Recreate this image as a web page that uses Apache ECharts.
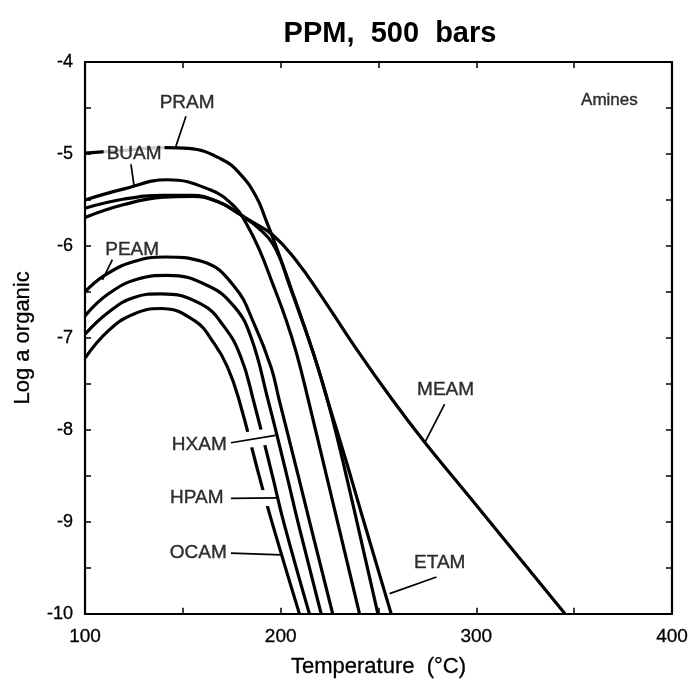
<!DOCTYPE html>
<html><head><meta charset="utf-8">
<script src="https://cdn.jsdelivr.net/npm/echarts@6/dist/echarts.min.js"></script>
<style>html,body{margin:0;padding:0;background:#fff}#c{width:691px;height:683px}</style>
</head><body><div id="c"></div>
<script>
// ---- data (Temperature °C, log a) ----
const xTickLabels = [100, 200, 300, 400];
const yTickLabels = [-4, -5, -6, -7, -8, -9, -10];

const pram = [[100,-4.99],[120,-4.96],[141,-4.93],[153,-4.94],[170,-5.06],[179,-5.21],[187.4,-5.46],[192.5,-5.72],[197.6,-6.0],[204.5,-6.41],[216.3,-7.14],[224,-7.68],[233,-8.45],[249.7,-10]];
const buam = [[100,-5.50],[120,-5.38],[142,-5.28],[164,-5.39],[176.3,-5.57],[182.3,-5.75],[189.1,-6.04],[195.9,-6.41],[202.7,-6.80],[208,-7.16],[213.5,-7.62],[240.3,-10]];
const etam = [[100,-5.59],[120,-5.49],[140,-5.45],[155,-5.45],[168,-5.52],[178,-5.64],[190,-5.83],[197.6,-6.04],[204.5,-6.43],[216.3,-7.14],[224,-7.68],[233.5,-8.34],[242,-8.96],[256.5,-10]];
const meam = [[100,-5.69],[120,-5.55],[140,-5.47],[155,-5.46],[168,-5.52],[178,-5.64],[184,-5.72],[196,-5.88],[208,-6.16],[220,-6.52],[240,-7.16],[257,-7.67],[273.6,-8.135],[290,-8.56],[305,-8.95],[320,-9.34],[345.3,-10]];
const peam = [[100,-6.50],[110,-6.32],[125,-6.17],[141,-6.12],[160,-6.17],[176.3,-6.44],[186.5,-6.85],[195.1,-7.32],[199.3,-7.68],[209,-8.5],[214.8,-9.0],[226.6,-10]];
const hxam = [[100,-6.76],[112,-6.52],[127,-6.36],[142,-6.32],[162.6,-6.43],[176.3,-6.66],[184.8,-6.99],[193.6,-7.68],[203.2,-8.5],[208.8,-9.0],[220.7,-10]];
const hpam = [[100,-6.96],[112,-6.72],[125,-6.56],[138.7,-6.52],[159.2,-6.63],[171.2,-6.88],[179.7,-7.21],[186.1,-7.68],[195.8,-8.5],[201.5,-9.0],[214.7,-10]];
const ocam = [[100,-7.22],[112,-6.92],[125,-6.74],[138.7,-6.68],[155.8,-6.81],[166,-7.06],[172.9,-7.32],[178.8,-7.68],[189,-8.5],[195.5,-9.0],[209.6,-10]];

const curves = [pram, buam, etam, meam, peam, hxam, hpam, ocam];

// ---- annotations (data coordinates) ----
const labelNames = ['PRAM','BUAM','PEAM','HXAM','HPAM','OCAM','MEAM','ETAM','Amines'];
const labelAt = [[152.2,-4.44],[125.1,-5.0],[124.1,-6.04],[158.4,-8.16],[157.1,-8.74],[157.9,-9.34],[284.3,-7.56],[281.3,-9.45],[368,-4.42]];
const leaders = [
  [[151.6,-4.59],[146.4,-4.92]],
  [[123.4,-5.10],[125.1,-5.35]],
  [[114.0,-6.15],[108.9,-6.37]],
  [[174.6,-8.14],[197.3,-8.06]],
  [[174.6,-8.745],[198.2,-8.74]],
  [[174.6,-9.34],[200.3,-9.358]],
  [[283.8,-7.72],[273.6,-8.14]],
  [[279.6,-9.60],[255.7,-9.78]]
];
const gaps = [
  [[176.5,-8.133],[194.0,-8.07]],
  [[176.5,-8.745],[195.3,-8.74]]
];

const FONT = "'Liberation Sans', Arial, Helvetica, sans-serif";
const chart = echarts.init(document.getElementById('c'));

const isInt = v => Math.abs(v - Math.round(v)) < 1e-9;

const series = curves.map(d => ({
  type: 'line', data: d, showSymbol: false, smooth: 0.45,
  lineStyle: { color: '#000', width: 3.2 }, z: 2, silent: true, animation: false
}));
series.push({
  type: 'lines', coordinateSystem: 'cartesian2d', z: 3, silent: true, animation: false,
  lineStyle: { color: '#fff', width: 16, opacity: 1, cap: 'butt' },
  data: gaps.map(c => ({ coords: c }))
});
series.push({
  type: 'lines', coordinateSystem: 'cartesian2d', z: 4, silent: true, animation: false,
  lineStyle: { color: '#000', width: 1.7, opacity: 1 },
  data: leaders.map(c => ({ coords: c }))
});
series.push({
  type: 'scatter', z: 6, silent: true, animation: false, symbolSize: 1,
  itemStyle: { color: 'rgba(0,0,0,0)' },
  label: { show: true, position: 'inside', formatter: '{b}', color: '#000', fontSize: 19,
    fontFamily: FONT, textBorderColor: '#000', textBorderWidth: 0.4 },
  data: labelNames.map((n, i) => {
    const item = { name: n, value: labelAt[i] };
    if (n === 'BUAM') item.label = { backgroundColor: '#fff', padding: [1, 3] };
    if (n === 'Amines') item.label = { fontSize: 17 };
    return item;
  })
});

const tickStyle = { inside: true, length: 6, lineStyle: { color: '#000', width: 1.5 } };
const axisLine = { show: true, lineStyle: { color: '#000', width: 2.2 } };
const tickFont = { fontSize: 19, color: '#000', fontFamily: FONT, textBorderColor: '#000', textBorderWidth: 0.3 };
const nameFont = { fontSize: 22, color: '#000', fontFamily: FONT, textBorderColor: '#000', textBorderWidth: 0.3 };

chart.setOption({
  animation: false,
  backgroundColor: '#fff',
  title: { text: 'PPM,  500  bars', left: 385, textAlign: 'center', top: 14,
    textStyle: { fontSize: 29, fontWeight: 'bold', color: '#000', fontFamily: FONT } },
  grid: { left: 85, right: 19, top: 62, bottom: 68 },
  xAxis: [
    { type: 'value', min: 100, max: 400, interval: 50, position: 'bottom',
      axisLine, axisTick: tickStyle, splitLine: { show: false },
      axisLabel: Object.assign({ margin: 13, formatter: v => (xTickLabels.includes(v) ? String(v) : '') }, tickFont),
      name: 'Temperature  (°C)', nameLocation: 'middle', nameGap: 42, nameTextStyle: nameFont },
    { type: 'value', min: 100, max: 400, interval: 50, position: 'top',
      axisLine, axisTick: tickStyle, splitLine: { show: false }, axisLabel: { show: false } }
  ],
  yAxis: [
    { type: 'value', min: -10, max: -4, interval: 0.5, position: 'left',
      axisLine, axisTick: tickStyle, splitLine: { show: false },
      axisLabel: Object.assign({ margin: 12,
        formatter: v => (isInt(v) && yTickLabels.includes(Math.round(v)) ? String(Math.round(v)) : '') }, tickFont, { fontSize: 18 }),
      name: 'Log a organic', nameLocation: 'middle', nameGap: 51, nameRotate: 90, nameTextStyle: nameFont },
    { type: 'value', min: -10, max: -4, interval: 0.5, position: 'right',
      axisLine, axisTick: tickStyle, splitLine: { show: false }, axisLabel: { show: false } }
  ],
  series
});
</script></body></html>
